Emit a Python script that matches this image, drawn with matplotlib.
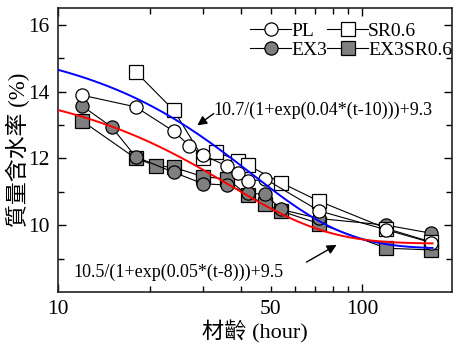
import numpy as np
import matplotlib
matplotlib.use("Agg")
import matplotlib.pyplot as plt
from matplotlib.ticker import FixedLocator, FixedFormatter

# ---- data ----
pl_t = [12, 18, 24, 27, 30, 36, 39, 42, 48, 72, 120, 168]
pl_v = [13.89, 13.54, 12.81, 12.38, 12.10, 11.76, 11.56, 11.31, 11.38, 10.43, 9.86, 9.48]

sr_t = [18, 24, 30, 33, 39, 42, 54, 72, 120, 168]
sr_v = [14.59, 13.44, 12.0, 12.2, 11.93, 11.8, 11.27, 10.72, 9.9, 9.5]

ex3_t = [12, 15, 18, 24, 30, 36, 42, 48, 54, 72, 120, 168]
ex3_v = [13.57, 12.94, 12.05, 11.58, 11.24, 11.2, 10.95, 10.93, 10.47, 10.2, 10.0, 9.76]

ex3sr_t = [12, 18, 21, 24, 30, 36, 42, 48, 54, 72, 120, 168]
ex3sr_v = [13.12, 12.0, 11.78, 11.73, 11.45, 11.38, 10.9, 10.62, 10.42, 10.05, 9.31, 9.26]

# fitted curves (A, k, t0, c): A/(1+exp(k*(t-t0)))+c
blue_fit = (10.7, 0.04, 10, 9.3)
red_fit = (9.0, 0.045, 5, 9.45)
blue_label = "10.7/(1+exp(0.04*(t-10)))+9.3"
red_label = "10.5/(1+exp(0.05*(t-8)))+9.5"

x_major = [10, 100]
x_minor = [20, 30, 40, 50, 60, 70, 80, 90]
y_major = [10, 12, 14, 16]
y_minor = [9, 11, 13, 15]

plt.rcParams['font.family'] = ['Liberation Serif', 'Noto Sans CJK TC']

fig = plt.figure(figsize=(4.54, 3.52), dpi=100)
ax = fig.add_axes([58/454, 1-292/352, (452-58)/454, (292-8)/352])

gray = '#7f7f7f'
ms = 9.5
common = dict(color='black', lw=0.8, markersize=ms, markeredgecolor='black', markeredgewidth=0.9)
h4, = ax.plot(ex3sr_t, ex3sr_v, marker='s', markerfacecolor=gray, label='EX3SR0.6', **common)
h3, = ax.plot(ex3_t, ex3_v, marker='o', markerfacecolor=gray, label='EX3', **common)
h2, = ax.plot(sr_t, sr_v, marker='s', markerfacecolor='white', label='SR0.6', **common)
h1, = ax.plot(pl_t, pl_v, marker='o', markerfacecolor='white', label='PL', **common)

t = np.linspace(10, 170, 400)
def logi(p, t):
    A, k, t0, c = p
    return A / (1 + np.exp(k * (t - t0))) + c
ax.plot(t, logi(blue_fit, t), color='#0000ff', lw=1.4, zorder=5)
ax.plot(t, logi(red_fit, t), color='#ff0000', lw=1.4, zorder=5)

ax.set_xscale('log')
ax.set_xlim(10, 197)
ax.set_ylim(8.0, 16.5)

ax.xaxis.set_major_locator(FixedLocator(x_major))
ax.xaxis.set_major_formatter(FixedFormatter([str(v) for v in x_major]))
ax.xaxis.set_minor_locator(FixedLocator(x_minor))
ax.xaxis.set_minor_formatter(FixedFormatter(['' if v != 50 else '50' for v in x_minor]))
ax.yaxis.set_major_locator(FixedLocator(y_major))
ax.yaxis.set_minor_locator(FixedLocator(y_minor))

ax.tick_params(which='both', direction='in', top=True, right=True, labelsize=15.5, pad=6)
ax.tick_params(which='major', length=6, width=1)
ax.tick_params(which='minor', length=4, width=1)
for s in ax.spines.values():
    s.set_linewidth(1.2)
    s.set_color('#222222')

ax.set_xlabel('材齡 (hour)', fontsize=16, labelpad=1)
ax.set_ylabel('質量含水率 (%)', fontsize=16.5, labelpad=-1)

ax.text(213/454, 1-110/352, blue_label, transform=fig.transFigure, fontsize=13, va='center', ha='left')
ax.annotate('', xy=(195, 352-127), xycoords='figure pixels',
            xytext=(216, 352-112), textcoords='figure pixels',
            arrowprops=dict(arrowstyle='-|>', color='black', lw=1, mutation_scale=14))
ax.text(73/454, 1-272.5/352, red_label, transform=fig.transFigure, fontsize=13, va='center', ha='left')
ax.annotate('', xy=(339, 352-243.5), xycoords='figure pixels',
            xytext=(304, 352-263.5), textcoords='figure pixels',
            arrowprops=dict(arrowstyle='-|>', color='black', lw=1, mutation_scale=14))

leg = ax.legend(handles=[h1, h3, h2, h4], ncol=2, loc='upper right', frameon=False,
                fontsize=14, handlelength=2.1, handletextpad=0.0, columnspacing=0.0,
                labelspacing=0.1, borderaxespad=0.0, borderpad=0.0,
                bbox_to_anchor=(1.0, 1 - 14/284))

fig.savefig('out.png', dpi=100)
